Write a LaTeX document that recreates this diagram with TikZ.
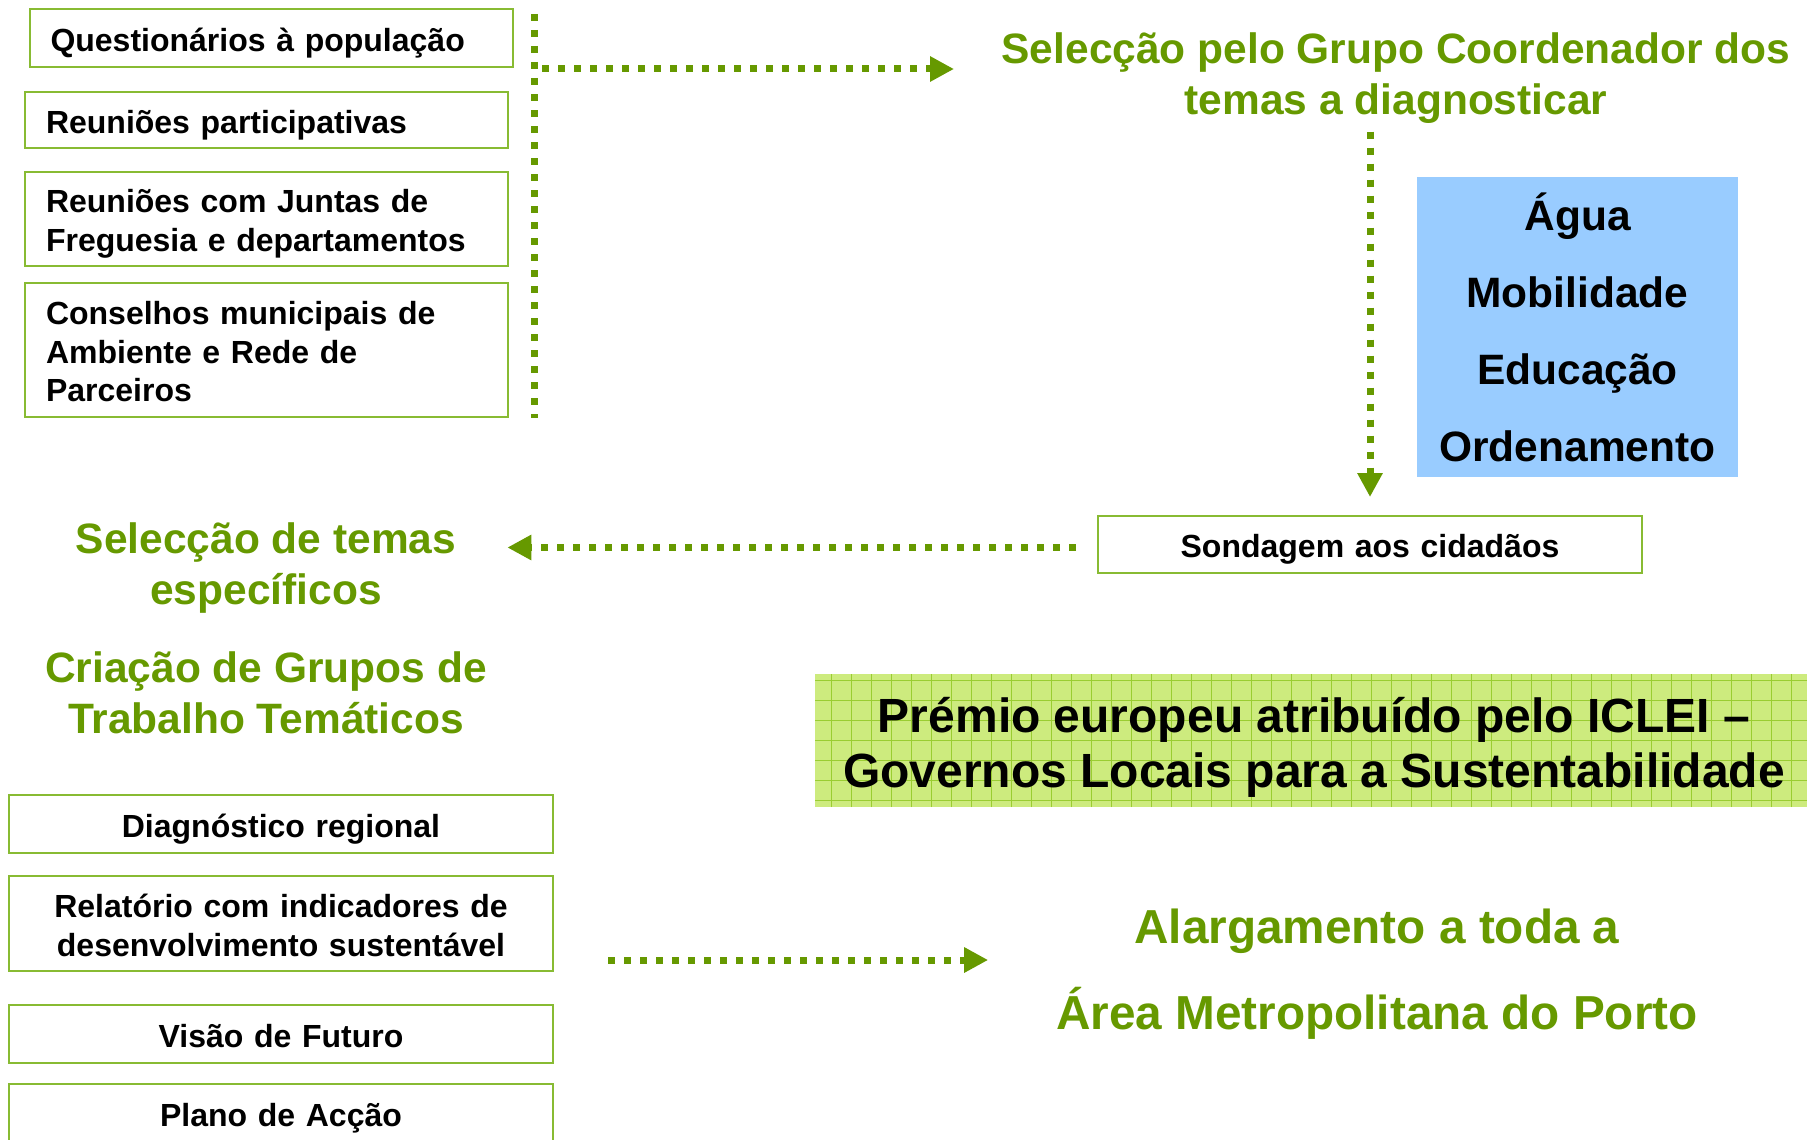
\documentclass[tikz,border=0pt]{standalone}
\usepackage{fontspec}
\setmainfont{Liberation Sans}
\usetikzlibrary{arrows.meta}
\definecolor{leafgreen}{HTML}{669900}
\definecolor{boxline}{HTML}{88BB33}
\definecolor{skyblue}{HTML}{99CCFF}
\definecolor{premioFill}{HTML}{CDEB7E}
\definecolor{premioGrid}{HTML}{9ACD32}
\begin{document}
\begin{tikzpicture}[x=1pt,y=-1pt,
	box/.style={draw=boxline, line width=2pt, inner xsep=21pt, inner ysep=0pt, text height=33.5pt, text depth=7pt, font=\bfseries\fontsize{32}{38.6}\selectfont},
	leftbox/.style={box, align=left, text width=441pt},
	midbox/.style={box, align=center, text width=502pt},
	greentext/.style={text=leafgreen, align=center, inner sep=0pt, font=\bfseries\fontsize{42.5}{51}\selectfont},
	dots/.style={draw=leafgreen, line width=7pt, dash pattern=on 7pt off 9pt},
	flow/.style={dots, -{Triangle[length=24pt,width=24pt]}}]
	\useasboundingbox (0,0) rectangle (1807,1140);

	% left column, top
	\node[leftbox, minimum height=58pt] (quest) at (271,38) {Questionários à população};
	\node[leftbox, minimum height=56pt] (reun) at (266.5,120) {Reuniões participativas};
	\node[leftbox, text depth=45.6pt, minimum height=94pt] (juntas) at (266.5,219) {Reuniões com Juntas de\\Freguesia e departamentos};
	\node[leftbox, text depth=84.2pt, minimum height=134pt] (conselhos) at (266.5,350) {Conselhos municipais de\\Ambiente e Rede de\\Parceiros};

	\coordinate (barTop) at (534,14);
	\coordinate (barBot) at (534,418);
	\draw[dots] (barTop) -- (barBot);

	% right column
	\node[greentext] (title) at (1396,78) {Selecção pelo Grupo Coordenador dos\\temas a diagnosticar};
	\node[fill=skyblue, minimum width=321pt, minimum height=300pt, align=center, font=\bfseries\fontsize{42.5}{77}\selectfont] (temasList) at (1577.5,327) {Água\\Mobilidade\\Educação\\Ordenamento};
	\node[midbox, minimum height=57pt] (sond) at (1370,544.5) {Sondagem aos cidadãos};

	\coordinate (barJoin) at (542,69);
	\coordinate (titleTip) at (954,69);
	\draw[flow] (barJoin) -- (titleTip);
	\draw[flow, shorten <=8pt, shorten >=18pt] (title.south -| sond.north) -- (sond.north);

	% left column, middle
	\node[greentext] (temas) at (266,568) {Selecção de temas\\específicos};
	\node[greentext] (grupos) at (266,693) {Criação de Grupos de\\Trabalho Temáticos};
	\draw[flow, shorten <=21pt, shorten >=51pt] ([yshift=-3pt]sond.west) -- ([yshift=-3pt]sond.west -| temas.east);

	% award
	\node[fill=premioFill, minimum width=992pt, minimum height=133pt, inner sep=0pt,
		path picture={\draw[premioGrid, line width=1pt, step=20pt] (path picture bounding box.south west) grid (path picture bounding box.north east);}] (premioBox) at (1311,740.5) {};
	\node[align=center, font=\bfseries\fontsize{48}{55}\selectfont] (premio) at (1314,747.5) {Prémio europeu atribuído pelo ICLEI –\\Governos Locais para a Sustentabilidade};

	% left column, bottom
	\node[midbox, minimum height=58pt] (diag) at (281,824) {Diagnóstico regional};
	\node[midbox, text depth=45.6pt, minimum height=95pt] (relat) at (281,923.5) {Relatório com indicadores de\\desenvolvimento sustentável};
	\node[midbox, minimum height=58pt] (visao) at (281,1034) {Visão de Futuro};
	\node[midbox, minimum height=58pt] (plano) at (281,1113) {Plano de Acção};

	\node[greentext, font=\bfseries\fontsize{47.7}{86}\selectfont] (alarg) at (1377,974) {Alargamento a toda a\\Área Metropolitana do Porto};
	\coordinate (relOut) at (608,960);
	\draw[flow, shorten >=68pt] (relOut) -- (relOut -| alarg.west);
\end{tikzpicture}
\end{document}
